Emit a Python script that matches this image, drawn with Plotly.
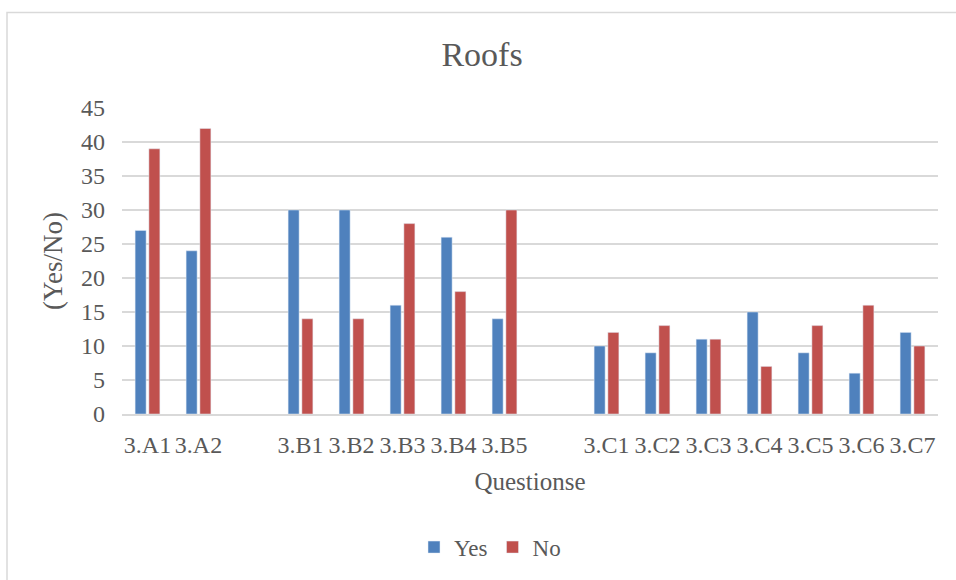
import plotly.graph_objects as go

categories = ["3.A1", "3.A2", " ", "3.B1", "3.B2", "3.B3", "3.B4", "3.B5", "  ",
              "3.C1", "3.C2", "3.C3", "3.C4", "3.C5", "3.C6", "3.C7"]
yes_values = [27, 24, None, 30, 30, 16, 26, 14, None, 10, 9, 11, 15, 9, 6, 12]
no_values = [39, 42, None, 14, 14, 28, 18, 30, None, 12, 13, 11, 7, 13, 16, 10]
y_ticks = [0, 5, 10, 15, 20, 25, 30, 35, 40, 45]

FONT = "Liberation Serif, Times New Roman, serif"
TXT = "#595959"

fig = go.Figure()
fig.add_trace(go.Bar(name="Yes", x=categories, y=yes_values, marker_color="#4F81BD"))
fig.add_trace(go.Bar(name="No", x=categories, y=no_values, marker_color="#C0504D"))

W, H = 956, 580
L, R, T, B = 122, 18, 108, 164
pw, ph = W - L - R, H - T - B

def px_to_paper_x(px):
    return (px - L) / pw

def px_to_paper_y(py):
    return (H - B - py) / ph

fig.update_layout(
    width=W, height=H,
    margin=dict(l=L, r=R, t=T, b=B),
    paper_bgcolor="white", plot_bgcolor="white",
    font=dict(family=FONT, color=TXT, size=24),
    barmode="group", bargap=0.46, bargroupgap=0.2,
    title=dict(text="Roofs", x=482 / W, xref="container", xanchor="center",
               y=1 - 54 / H, yref="container", yanchor="middle",
               font=dict(size=34, color=TXT, family=FONT)),
    showlegend=True,
    legend=dict(orientation="h", x=px_to_paper_x(490), xanchor="center",
                y=px_to_paper_y(550), yanchor="middle",
                font=dict(size=23, color=TXT, family=FONT),
                itemwidth=30, traceorder="normal"),
    xaxis=dict(type="category", categoryorder="array", categoryarray=categories,
               showgrid=False, showline=True, linecolor="#D9D9D9", linewidth=1.5,
               ticks="", tickfont=dict(size=24, color=TXT, family=FONT),
               ticklabelstandoff=8,
               title=dict(text="Questionse", font=dict(size=25, color=TXT, family=FONT),
                          standoff=16)),
    yaxis=dict(range=[0, 45], tickvals=y_ticks, showgrid=True, gridcolor="#D9D9D9",
               gridwidth=1.5, zeroline=False, showline=False, ticks="",
               tickfont=dict(size=24, color=TXT, family=FONT), ticklabelstandoff=16,
               title=dict(text="(Yes/No)", font=dict(size=27, color=TXT, family=FONT),
                          standoff=10)),
    shapes=[dict(type="rect", xref="paper", yref="paper",
                 x0=px_to_paper_x(7), x1=px_to_paper_x(965),
                 y0=px_to_paper_y(590), y1=px_to_paper_y(12),
                 line=dict(color="#D9D9D9", width=1.5), fillcolor="rgba(0,0,0,0)",
                 layer="below")],
)

fig.write_html("out.html", config={"displayModeBar": False},
               post_script="document.body.style.margin='0';document.body.style.overflow='hidden';")
